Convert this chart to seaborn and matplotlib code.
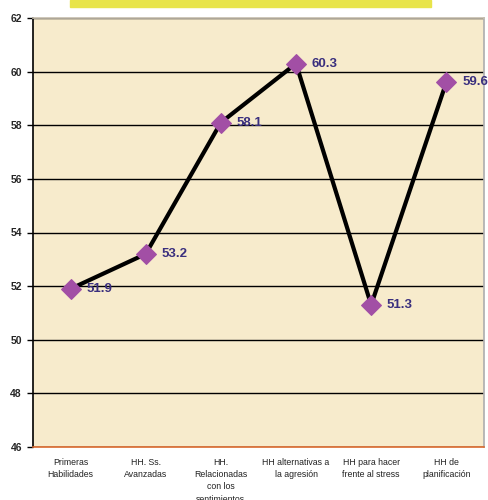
import matplotlib
matplotlib.use("Agg")
import matplotlib.pyplot as plt
import seaborn as sns
import pandas as pd
from matplotlib.patches import Rectangle

categories = [
    "Primeras\nHabilidades",
    "HH. Ss.\nAvanzadas",
    "HH.\nRelacionadas\ncon los\nsentimientos",
    "HH alternativas a\nla agresión",
    "HH para hacer\nfrente al stress",
    "HH de\nplanificación",
]
values = [51.9, 53.2, 58.1, 60.3, 51.3, 59.6]
y_ticks = [46, 48, 50, 52, 54, 56, 58, 60, 62]

df = pd.DataFrame({"pos": range(len(categories)), "val": values})

sns.set_theme(style="white")
plt.rcParams["font.family"] = ["Liberation Sans", "DejaVu Sans"]

fig = plt.figure(figsize=(4.89, 5.0), dpi=100)
ax = fig.add_axes([0.0675, 0.106, 0.922, 0.858])
ax.set_facecolor("#f7ebcc")

sns.lineplot(data=df, x="pos", y="val", ax=ax, color="black", linewidth=3,
             marker="D", markersize=10, markerfacecolor="#a24fa5",
             markeredgecolor="#a24fa5", zorder=3)

for i, v in enumerate(values):
    ax.text(i + 0.21, v, f"{v:.1f}", color="#3a2f7e", fontsize=9.5,
            fontweight="bold", va="center", ha="left", zorder=4)

ax.set_xlim(-0.5, len(categories) - 0.5)
ax.set_ylim(46, 62)
ax.set_yticks(y_ticks)
ax.set_yticklabels([str(t) for t in y_ticks], fontsize=7.5, fontweight="bold")
ax.yaxis.grid(True, color="black", linewidth=1.0)
ax.set_axisbelow(True)

ax.set_xticks([i - 0.5 for i in range(len(categories) + 1)], minor=False)
ax.set_xticklabels([""] * (len(categories) + 1))
ax.set_xticks(range(len(categories)), minor=True)
ax.set_xticklabels(categories, minor=True, fontsize=6.3, color="#222222",
                   linespacing=1.45, va="top")
ax.tick_params(axis="x", which="major", length=4, color="#d9692e", width=1)
ax.tick_params(axis="x", which="minor", length=0, pad=8)
ax.tick_params(axis="y", length=4, width=1, color="black", pad=4, left=True)

ax.set_xlabel("")
ax.set_ylabel("")

ax.spines["left"].set_color("black")
ax.spines["left"].set_linewidth(1.2)
ax.spines["bottom"].set_color("#d9692e")
ax.spines["bottom"].set_linewidth(1.2)
ax.spines["top"].set_color("#c8c0b0")
ax.spines["right"].set_color("#b0b0b0")

# Banner strip across the top of the figure
fig.patches.append(Rectangle((70 / 489, 1 - 7 / 500), (431 - 70) / 489, 7 / 500,
                             transform=fig.transFigure, color="#e8e44a",
                             zorder=0))

fig.savefig("out.png", dpi=100)
